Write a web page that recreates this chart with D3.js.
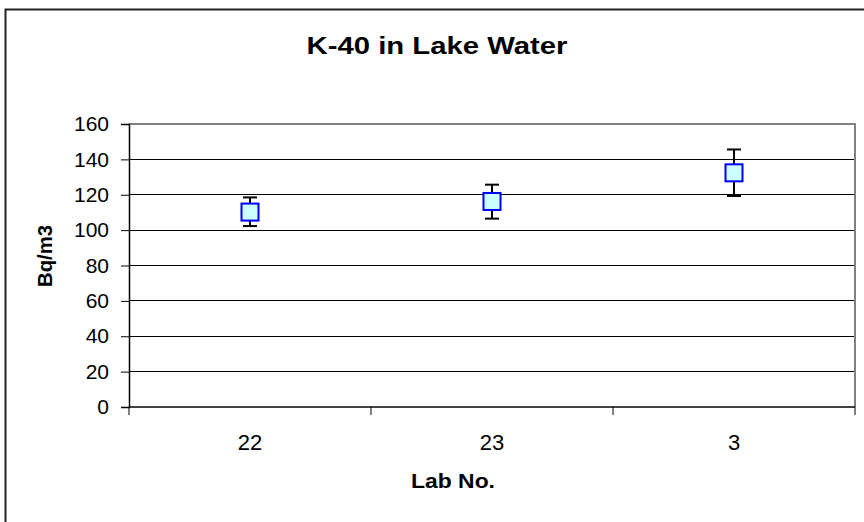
<!DOCTYPE html>
<html><head><meta charset="utf-8">
<script src="https://cdn.jsdelivr.net/npm/d3@7/dist/d3.min.js"></script>
<style>body{margin:0;background:#fff}svg{display:block}text{font-family:"Liberation Sans",Arial,sans-serif}</style>
</head><body>
<script>
const labs = ["22", "23", "3"];
const values = [110.2, 116.2, 132.4];
const errLow = [102.3, 106.5, 119.3];
const errHigh = [118.5, 125.7, 145.6];
const yTicks = [0, 20, 40, 60, 80, 100, 120, 140, 160];
const title = "K-40 in Lake Water";
const xTitle = "Lab No.";
const yTitle = "Bq/m3";

const W = 864, H = 522;
const m = {left: 129, right: 855, top: 124, bottom: 407};
const svg = d3.select("body").append("svg").attr("width", W).attr("height", H);

// outer chart border
svg.append("rect").attr("x", 5.5).attr("y", 9.5).attr("width", 900).attr("height", 600)
  .attr("fill", "none").attr("stroke", "#222").attr("stroke-width", 2);

const x = d3.scaleBand().domain(labs).range([m.left, m.right]);
const y = d3.scaleLinear().domain([0, 160]).range([m.bottom, m.top]);

// gridlines
svg.append("g").selectAll("line").data(yTicks.filter(t => t > 0 && t < 160)).join("line")
  .attr("x1", m.left).attr("x2", m.right).attr("y1", d => y(d)).attr("y2", d => y(d))
  .attr("stroke", "#000").attr("stroke-width", 1).attr("shape-rendering", "crispEdges");
// plot border (gray top/right)
svg.append("path").attr("d", `M${m.left},${y(160)}H${m.right}V${m.bottom}`)
  .attr("fill", "none").attr("stroke", "#808080").attr("stroke-width", 1.5).attr("shape-rendering", "crispEdges");

// y axis
const yAxis = svg.append("g").attr("transform", `translate(${m.left},0)`)
  .call(d3.axisLeft(y).tickValues(yTicks).tickSize(8).tickPadding(12));
yAxis.select(".domain").attr("stroke", "#000").attr("stroke-width", 1.5);
yAxis.selectAll(".tick line").attr("stroke", "#000");
yAxis.selectAll("text").attr("font-size", 21).attr("fill", "#000").attr("font-family", "Liberation Sans, Arial, sans-serif");

// x axis with ticks at category boundaries
const xAxisG = svg.append("g").attr("transform", `translate(0,${m.bottom})`);
xAxisG.append("line").attr("x1", m.left).attr("x2", m.right).attr("stroke", "#000").attr("stroke-width", 1.5);
const bounds = labs.map(d => x(d)).concat([m.right]);
xAxisG.selectAll("line.tk").data(bounds).join("line").attr("class", "tk")
  .attr("x1", d => d).attr("x2", d => d).attr("y1", 0).attr("y2", 8).attr("stroke", "#000");
xAxisG.selectAll("text").data(labs).join("text")
  .attr("x", d => x(d) + x.bandwidth() / 2).attr("y", 43).attr("text-anchor", "middle")
  .attr("font-size", 22).text(d => d);

// error bars
const cx = d => x(d) + x.bandwidth() / 2;
const eb = svg.append("g").attr("stroke", "#000").attr("stroke-width", 2);
labs.forEach((d, i) => {
  eb.append("line").attr("x1", cx(d)).attr("x2", cx(d)).attr("y1", y(errLow[i])).attr("y2", y(errHigh[i]));
  eb.append("line").attr("x1", cx(d) - 7).attr("x2", cx(d) + 7).attr("y1", y(errLow[i])).attr("y2", y(errLow[i]));
  eb.append("line").attr("x1", cx(d) - 7).attr("x2", cx(d) + 7).attr("y1", y(errHigh[i])).attr("y2", y(errHigh[i]));
});

// markers
svg.append("g").selectAll("rect").data(labs).join("rect")
  .attr("x", d => cx(d) - 8.5).attr("y", (d, i) => y(values[i]) - 8.5)
  .attr("width", 17).attr("height", 17)
  .attr("fill", "#CCFFFF").attr("stroke", "#0000FF").attr("stroke-width", 2);

// titles
svg.append("text").attr("x", 437).attr("y", 54).attr("text-anchor", "middle")
  .attr("font-size", 24).attr("font-weight", "bold")
  .attr("textLength", 261).attr("lengthAdjust", "spacingAndGlyphs").text(title);
svg.append("text").attr("x", 453).attr("y", 488).attr("text-anchor", "middle")
  .attr("font-size", 20).attr("font-weight", "bold")
  .attr("textLength", 84).attr("lengthAdjust", "spacingAndGlyphs").text(xTitle);
svg.append("text").attr("transform", "translate(52,256) rotate(-90)").attr("text-anchor", "middle")
  .attr("font-size", 20).attr("font-weight", "bold")
  .attr("textLength", 62).attr("lengthAdjust", "spacingAndGlyphs").text(yTitle);
</script>
</body></html>
